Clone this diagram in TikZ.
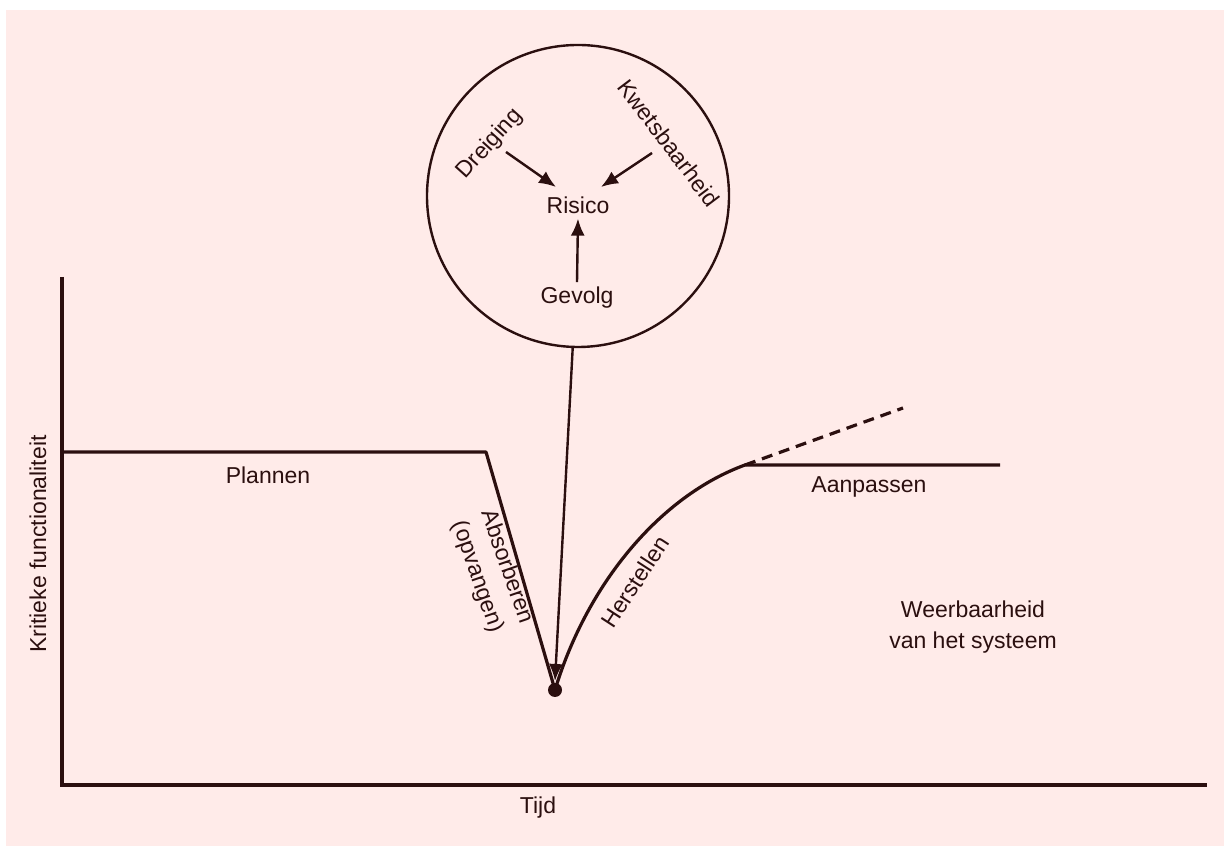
\documentclass[tikz,border=0pt]{standalone}
\usepackage{fontspec}
\setmainfont{Liberation Sans}
\usetikzlibrary{arrows.meta}
\definecolor{ink}{RGB}{43,15,15}
\definecolor{paper}{RGB}{255,235,233}
\tikzset{
  pointer tip/.tip={Latex[length=17pt,width=14pt]},
}
\begin{document}
\begin{tikzpicture}[x=1pt,y=1pt,
  font=\fontsize{23}{31}\selectfont,
  every node/.style={text=ink},
  lbl/.style={inner sep=0pt, align=center},
  axis/.style={draw=ink, line width=3.2pt},
  curve/.style={draw=ink, line width=3.2pt, line join=round},
  ptr/.style={draw=ink, fill=ink, line width=2.4pt, -{pointer tip}}]
  % canvas
  \useasboundingbox (0,0) rectangle (1224,846);
  \fill[white] (0,0) rectangle (1224,846);
  \fill[paper] (6,0) rectangle (1224,836);

  % axes
  \coordinate (origin) at (62,61);
  \coordinate (ytop) at (62,569);
  \coordinate (xend) at (1207,61);
  \draw[axis] (ytop) -- (origin) -- (xend);
  \node[lbl, rotate=90] (ylab) at (38,302) {Kritieke functionaliteit};
  \node[lbl] (xlab) at (538,38) {Tijd};

  % functionality curve
  \coordinate (start) at (62,394);
  \coordinate (shock) at (486,394);
  \node[circle, fill=ink, inner sep=0pt, minimum size=14pt] (dip) at (555,156) {};
  \coordinate (recovered) at (745,381);
  \coordinate (flatend) at (1000,381);
  \coordinate (dashend) at (903,438);
  \draw[curve] (start) -- (shock) -- (dip.center);
  \draw[curve] (dip.center) .. controls (587,262) and (660,350) .. (recovered) -- (flatend);
  \draw[draw=ink, line width=3.2pt, dash pattern=on 11pt off 7pt] (recovered) -- (dashend);

  % phase labels
  \node[lbl] (plan) at (268,371) {Plannen};
  \node[lbl, rotate=-71] (absorb) at (492,274) {Absorberen\\(opvangen)};
  \node[lbl, rotate=57] (recover) at (635,264) {Herstellen};
  \node[lbl] (adapt) at (869,359) {Aanpassen};
  \node[lbl] (res) at (973,219) {Weerbaarheid\\van het systeem};

  % risk circle
  \node[circle, draw=ink, line width=2.4pt, minimum size=302pt, inner sep=0pt] (circ) at (578,650) {};
  \node[lbl] (risk) at (578,641) {Risico};
  \node[lbl] (cons) at (577,548) {Gevolg};
  \node[lbl, rotate=48] (threat) at (490,702) {Dreiging};
  \node[lbl, rotate=-53] (vuln) at (669,703) {Kwetsbaarheid};
  \coordinate (tA) at (506,694);
  \coordinate (tB) at (556,659);
  \coordinate (vA) at (652,693);
  \coordinate (vB) at (601,659);
  \draw[ptr] (tA) -- (tB);
  \draw[ptr] (vA) -- (vB);
  \draw[ptr] (cons.north) ++(0,5) -- ([yshift=-5pt]risk.south);

  % pointer from the circle to the dip
  \draw[ptr] (circ.-92) -- ([yshift=9pt]dip.center);
\end{tikzpicture}
\end{document}
